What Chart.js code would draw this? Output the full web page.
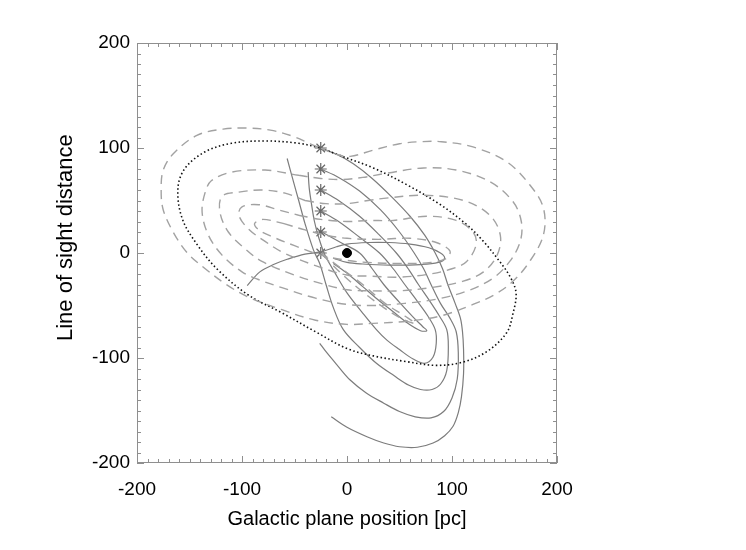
<!DOCTYPE html>
<html>
<head>
<meta charset="utf-8">
<script src="https://cdn.jsdelivr.net/npm/chart.js"></script>
<style>html,body{margin:0;padding:0;background:#fff}</style>
</head>
<body>
<canvas id="myChart" width="746" height="550"></canvas>
<script>
// star positions (start points)
const starX = [-25, -25, -25, -25, -25, -25];
const starY = [0, 20, 40, 60, 80, 100];
const centre = [[0, 0]];

// solid orbits, one per star
const solid0 = [[-95,-31],[-83,-18],[-70,-11],[-57,-6],[-40,-1],[-25,1],[-10,6],[0,8.5],[20,10],[40,10],[60,8.5],[78,5],[89,0],[93,-5],[87,-9],[70,-11],[40,-11.5],[15,-10.5],[0,-9],[-13,-5]];
const solid20 = [[-24,20],[-6,10],[12,0],[24,-15],[35,-30],[50,-47],[63,-61],[72,-70],[76,-74],[70,-74],[58,-67],[44,-56],[29,-44],[15,-32],[1,-20],[-13,-10]];
const solid40 = [[-25,40],[-8,30],[12,15],[31,0],[44,-15],[55,-30],[67,-46],[77,-60],[84,-73],[85,-86],[82,-99],[74,-105],[63,-101],[50,-92],[38,-83],[28,-73],[14,-56],[0,-38],[-12,-18],[-21,-2],[-27,15],[-31,30],[-34,48],[-36,62],[-37,77]];
const solid60 = [[-25,60],[-8,50],[12,35],[30,18],[47,0],[59,-16],[68,-30],[79,-46],[88,-60],[95,-73],[96.5,-89],[95,-112],[89,-125],[81,-130],[70,-130],[59,-126],[45,-117],[28,-105],[12,-90],[-3.5,-73],[-13,-52],[-20,-30],[-26,-10],[-32,3],[-40,28],[-46,50],[-51,68],[-57,90]];
const solid80 = [[-25,80],[-8,72],[12,59],[32,41],[50,20],[64,0],[73,-15],[80,-30],[89,-48],[98,-62],[104,-75],[106,-95],[105,-120],[100,-138],[92,-151],[80,-157],[65,-156],[50,-151],[35,-143],[18,-133],[3,-121],[-10,-106],[-20,-94],[-26,-86]];
const solid100 = [[-25,100],[-10,94],[6,85],[24,71],[43,53],[60,35],[74,17],[84,0],[91,-15],[96,-30],[103,-48],[108,-62],[110,-75],[111,-92],[111,-115],[109,-137],[106,-152],[101,-165],[93,-174],[82,-181],[67,-185],[50,-184.5],[35,-181],[19,-175],[0,-166],[-15,-156]];

// dashed orbits
const dashed0 = [[-25,0],[-5,-15],[15,-30],[35,-47],[55,-60],[65,-67],[55,-64],[35,-52],[15,-37],[-5,-20],[-25,0]];
const dashed20 = [[-60,28],[-40,22],[-20,17],[0,14],[30,13],[60,14],[85,10],[98,2],[95,-5],[80,-9],[50,-10],[20,-9],[0,-7],[-25,-2],[-50,7],[-70,15],[-84,22],[-88,28],[-80,32],[-60,28]];
const dashed40 = [[-46,36],[-25,32],[0,30],[20,31],[44,31],[76,35],[104,31],[120,20],[123,8],[114,-8],[100,-15],[79,-20],[50,-23],[20,-22],[0,-21],[-30,-12],[-60,0],[-78,11],[-94,23],[-103,36],[-100,44],[-84,46],[-65,41],[-46,36]];
const dashed60 = [[-40,50],[-20,47],[0,47],[20,50],[35,52],[73,55],[111,50],[136,36],[146,17],[143,-2],[130,-18],[110,-27],[80,-33],[50,-36],[20,-36],[0,-35],[-25,-29],[-50,-21],[-81,-8],[-97,4],[-113,20],[-121,39],[-119,54],[-103,58],[-81,60],[-59,57],[-40,50]];
const dashed80 = [[-46,74],[-25,71],[-5,70],[15,72],[38,76],[73,81],[104,79],[136,68],[158,49],[166,30],[165,11],[155,-8],[139,-24],[115,-36],[85,-44],[55,-48],[25,-50],[0,-49],[-30,-43],[-62,-33],[-85,-25],[-100,-18],[-119,-2],[-132,17],[-138,39],[-135,58],[-129,69],[-110,77],[-78,79],[-46,74]];
const dashed100 = [[-25,100],[-10,94],[3,92],[25,98],[50,104],[70,106],[90,106],[120,101],[152,87],[174,65],[187,43],[187,17],[174,-8],[158,-27],[140,-40],[120,-49],[89,-60],[57,-65],[25,-67],[0,-68],[-30,-64],[-62,-54],[-94,-42],[-115,-30],[-135,-15],[-152,0],[-165,19],[-175,41],[-177,60],[-175,79],[-165,95],[-143,112],[-118,118],[-96,119],[-73,117],[-51,111],[-35,104],[-25,100]];

// dotted loop
const dotted = [[-25,100],[-7,93],[25,81],[57,65],[89,46],[114,27],[130,11],[143,-5],[155,-22],[161,-38],[158,-58],[152,-76],[133,-94],[110,-104],[85,-107],[57,-103.5],[25,-98],[0,-91],[-30,-75],[-62,-57],[-94,-40],[-123,-16],[-142,7],[-157,33],[-161,62],[-154,81],[-135,96.5],[-110,104.5],[-78,106.7],[-46,104.5],[-25,100]];

const xTicks = [-200, -100, 0, 100, 200];
const yTicks = [-200, -100, 0, 100, 200];

const pts = arr => arr.map(p => ({x: p[0], y: p[1]}));

function lineSet(arr, style) {
    let ds = {
        data: pts(arr),
        showLine: true,
        pointRadius: 0,
        tension: 0.35,
        fill: false,
        borderWidth: 1.2,
        borderColor: '#7c7c7c',
    };
    if (style === 'dash') {
        ds.borderColor = '#a2a2a2';
        ds.borderWidth = 1.4;
        ds.borderDash = [9, 6];
    } else if (style === 'dot') {
        ds.borderColor = '#111';
        ds.borderWidth = 1.6;
        ds.borderDash = [1.5, 2.5];
    }
    return ds;
}

const frameTicks = {
    id: 'frameTicks',
    afterDatasetsDraw(chart) {
        const {ctx, chartArea: a, scales: {x, y}} = chart;
        ctx.save();
        ctx.strokeStyle = '#8f8f8f';
        ctx.lineWidth = 1;
        ctx.strokeRect(a.left + 0.5, a.top + 0.5, a.right - a.left - 1, a.bottom - a.top - 1);
        ctx.beginPath();
        for (let v = -200; v <= 200; v += 10) {
            const len = v % 100 === 0 ? 7 : 4;
            const px = Math.round(x.getPixelForValue(v)) + 0.5;
            const py = Math.round(y.getPixelForValue(v)) + 0.5;
            ctx.moveTo(px, a.bottom); ctx.lineTo(px, a.bottom - len);
            ctx.moveTo(px, a.top); ctx.lineTo(px, a.top + len);
            ctx.moveTo(a.left, py); ctx.lineTo(a.left + len, py);
            ctx.moveTo(a.right, py); ctx.lineTo(a.right - len, py);
        }
        ctx.stroke();
        ctx.restore();
    }
};

Chart.defaults.font.family = "'Liberation Sans', Arial, sans-serif";
Chart.defaults.color = '#000';

const ctx = document.getElementById('myChart');
const config = {
    type: 'scatter',
    data: {
        datasets: [
            lineSet(dashed100, 'dash'),
            lineSet(dashed80, 'dash'),
            lineSet(dashed60, 'dash'),
            lineSet(dashed40, 'dash'),
            lineSet(dashed20, 'dash'),
            lineSet(dashed0, 'dash'),
            lineSet(dotted, 'dot'),
            lineSet(solid0),
            lineSet(solid20),
            lineSet(solid40),
            lineSet(solid60),
            lineSet(solid80),
            lineSet(solid100),
            {
                data: starX.map((v, i) => ({x: v, y: starY[i]})),
                pointStyle: 'star',
                pointRadius: 6,
                borderColor: '#666',
                borderWidth: 1.2,
                backgroundColor: '#666',
            },
            {
                data: pts(centre),
                pointStyle: 'circle',
                pointRadius: 4.5,
                borderColor: '#000',
                backgroundColor: '#000',
            },
        ]
    },
    options: {
        responsive: false,
        animation: false,
        layout: {padding: {left: 0, right: 189, top: 43, bottom: 0}},
        plugins: {
            legend: {display: false},
            tooltip: {enabled: false},
        },
        scales: {
            x: {
                type: 'linear',
                min: -200,
                max: 200,
                afterBuildTicks: s => { s.ticks = xTicks.map(v => ({value: v})); },
                afterFit: s => { s.height = 87; },
                grid: {display: false, drawTicks: false},
                border: {display: false},
                ticks: {color: '#000', font: {size: 19}, padding: 15, maxRotation: 0},
                title: {
                    display: true,
                    text: 'Galactic plane position [pc]',
                    font: {size: 20},
                    color: '#000',
                    padding: {top: 0, bottom: 19},
                },
            },
            y: {
                type: 'linear',
                min: -200,
                max: 200,
                afterBuildTicks: s => { s.ticks = yTicks.map(v => ({value: v})); },
                afterFit: s => { s.width = 137; },
                grid: {display: false, drawTicks: false},
                border: {display: false},
                ticks: {color: '#000', font: {size: 19}, padding: 7},
                title: {
                    display: true,
                    text: '     Line of sight distance',
                    font: {size: 22},
                    color: '#000',
                    padding: {top: 53, bottom: 0},
                },
            },
        },
    },
    plugins: [frameTicks],
};
const chart = new Chart(ctx, config);
</script>
</body>
</html>
